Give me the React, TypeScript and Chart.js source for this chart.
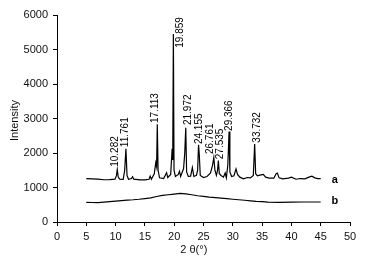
import React, { useEffect, useRef } from "react";
import { Chart, registerables } from "chart.js";

Chart.register(...registerables);

// Series a (crystalline) — 2θ and intensity
const aTheta = [
  5, 6, 7, 8, 9, 9.9, 10.15, 10.282, 10.45, 10.7, 11.3, 11.55, 11.761, 11.95, 12.2, 12.7, 12.9, 13.1,
  14.2, 15.0, 15.7, 15.9, 16.1, 16.6, 16.85, 17.0, 17.113, 17.25, 17.5, 18.2, 18.7, 18.9, 19.4, 19.65,
  19.75, 19.859, 19.97, 20.2, 20.7, 20.9, 21.1, 21.6, 21.8, 21.972, 22.12, 22.4, 22.8, 23.1, 23.35,
  23.8, 24.0, 24.155, 24.28, 24.45, 25.0, 25.6, 26.2, 26.55, 26.761, 26.95, 27.2, 27.4, 27.535, 27.7,
  28.0, 28.4, 28.7, 28.9, 29.15, 29.366, 29.5, 29.8, 30.2, 30.55, 30.8, 31.2, 31.8, 32.5, 33.0, 33.5,
  33.732, 33.9, 34.2, 34.6, 35.2, 35.6, 36.2, 37.0, 37.4, 37.6, 37.9, 38.5, 39.5, 40.0, 40.8, 41.5,
  42.3, 43.0, 43.5, 44.0, 44.5, 45,
];
const aIntensity = [
  1260, 1250, 1240, 1225, 1230, 1240, 1350, 1520, 1300, 1240, 1235, 1500, 2120, 1350, 1240, 1260, 1310, 1240,
  1220, 1220, 1240, 1330, 1240, 1400, 1720, 1600, 2830, 1500, 1280, 1260, 1430, 1290, 1380, 2120,
  1800, 5450, 1500, 1320, 1380, 1470, 1320, 1550, 2000, 2730, 1450, 1320, 1330, 1580, 1320,
  1350, 1500, 2240, 1950, 1350, 1290, 1320, 1420, 1650, 1870, 1500, 1350, 1500, 1780, 1400,
  1350, 1300, 1420, 1280, 1650, 2620, 1450, 1320, 1340, 1540, 1380, 1300, 1250, 1290, 1280, 1350,
  2260, 1400, 1340, 1360, 1380, 1300, 1270, 1270, 1400, 1420, 1280, 1250, 1270, 1300, 1240, 1260,
  1250, 1300, 1330, 1280, 1260, 1260,
];

// Series b (amorphous)
const bTheta = [5, 6, 7, 8, 9, 10, 11, 12, 13, 14, 15, 16, 17, 18, 19, 20, 21, 22, 23, 24, 25, 26, 27, 28, 29, 30, 31, 32, 33, 34, 35, 36, 38, 40, 42, 45];
const bIntensity = [570, 565, 560, 575, 590, 605, 620, 635, 645, 660, 680, 700, 740, 770, 790, 810, 830, 815, 790, 760, 740, 720, 705, 690, 675, 660, 645, 630, 615, 600, 590, 575, 570, 575, 580, 580];

// Peak labels: text, anchor 2θ, anchor intensity (where the rotated text starts)
const peakText = ["10.282", "11.761", "17.113", "19.859", "21.972", "24.155", "26.761", "27.535", "29.366", "33.732"];
const peakLabelX = [9.9, 11.6, 16.7, 21.0, 22.4, 24.3, 26.1, 27.8, 29.4, 34.1];
const peakLabelY = [1600, 2170, 2870, 5050, 2810, 2260, 1970, 1820, 2640, 2300];

// Series name tags
const seriesNames = ["a", "b"];
const seriesNameX = [47.4, 47.4];
const seriesNameY = [1220, 620];

const xTitle = "2 θ(°)";
const yTitle = "Intensity";

const FONT = "'Liberation Sans', Arial, sans-serif";

const annotate = {
  id: "annotate",
  afterDatasetsDraw(chart: any) {
    const { ctx, scales, chartArea } = chart;
    const xs = scales.x;
    const ys = scales.y;
    ctx.save();
    ctx.fillStyle = "#000";
    ctx.font = `10px ${FONT}`;
    ctx.textAlign = "left";
    ctx.textBaseline = "middle";
    peakText.forEach((t, i) => {
      const px = xs.getPixelForValue(peakLabelX[i]);
      const py = ys.getPixelForValue(peakLabelY[i]);
      ctx.save();
      ctx.translate(px, py);
      ctx.rotate(-Math.PI / 2);
      ctx.fillText(t, 0, 0);
      ctx.restore();
    });
    ctx.font = `bold 11px ${FONT}`;
    ctx.textAlign = "center";
    seriesNames.forEach((t, i) => {
      ctx.fillText(t, xs.getPixelForValue(seriesNameX[i]), ys.getPixelForValue(seriesNameY[i]));
    });
    // axis titles
    ctx.font = `11px ${FONT}`;
    ctx.fillStyle = "#111";
    ctx.textAlign = "center";
    ctx.fillText(xTitle, chartArea.left + chartArea.width * 0.467, 250);
    ctx.save();
    ctx.translate(15, (chartArea.top + chartArea.bottom) / 2 + 2);
    ctx.rotate(-Math.PI / 2);
    ctx.fillText(yTitle, 0, 0);
    ctx.restore();
    ctx.restore();
  },
};

export default function App() {
  const ref = useRef<HTMLCanvasElement>(null);
  useEffect(() => {
    const canvas = ref.current!;
    const chart = new Chart(canvas, {
      type: "line",
      data: {
        datasets: [
          {
            label: "a",
            data: aTheta.map((x, i) => ({ x, y: aIntensity[i] })),
            borderColor: "#000",
            borderWidth: 1.2,
            pointRadius: 0,
            tension: 0,
          },
          {
            label: "b",
            data: bTheta.map((x, i) => ({ x, y: bIntensity[i] })),
            borderColor: "#000",
            borderWidth: 1.2,
            pointRadius: 0,
            tension: 0,
          },
        ],
      },
      options: {
        responsive: false,
        animation: false,
        devicePixelRatio: 1,
        layout: { padding: { left: 0, right: 15, top: 15, bottom: 0 } },
        plugins: { legend: { display: false }, tooltip: { enabled: false }, title: { display: false } },
        scales: {
          x: {
            type: "linear",
            min: 0,
            max: 50,
            afterFit: (s: any) => {
              s.height = 46;
            },
            ticks: {
              stepSize: 5,
              color: "#111",
              font: { family: FONT, size: 11 },
              padding: 4,
              maxRotation: 0,
              callback: (v: any) => String(v),
            },
            grid: { display: true, drawOnChartArea: false, drawTicks: true, tickLength: 4, color: "#000" },
            border: { display: true, color: "#000", width: 1 },
          },
          y: {
            type: "linear",
            min: 0,
            max: 6000,
            afterFit: (s: any) => {
              s.width = 57;
            },
            ticks: {
              stepSize: 1000,
              color: "#111",
              font: { family: FONT, size: 11 },
              padding: 5,
              callback: (v: any) => String(v),
            },
            grid: { display: true, drawOnChartArea: false, drawTicks: true, tickLength: 4, color: "#000" },
            border: { display: true, color: "#000", width: 1 },
          },
        },
      },
      plugins: [annotate],
    });
    return () => chart.destroy();
  }, []);
  return (
    <div style={{ position: "fixed", left: 0, top: 0, width: 365, height: 268, background: "#fff" }}>
      <canvas ref={ref} width={365} height={268} style={{ display: "block" }} />
    </div>
  );
}
